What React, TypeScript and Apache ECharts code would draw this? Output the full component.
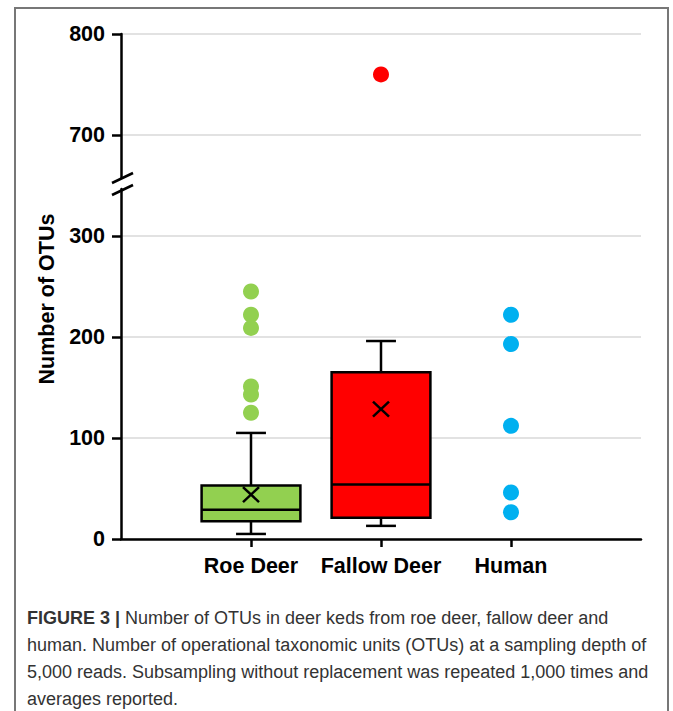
import React, { useEffect, useRef } from 'react';
import * as echarts from 'echarts';

const categories = ['Roe Deer', 'Fallow Deer', 'Human'];
const categoryPositions = [1, 2, 3];
// [position, lowWhisker, q1, median, q3, highWhisker, mean]
const roeBox = [1, 5, 17.5, 29, 53, 105, 44];
const fallowBox = [2, 13, 21, 54, 165, 196, 128.5];
const roeOutliers = [245, 222, 209, 151, 143, 125];
const fallowOutliers = [760];
const humanValues = [222, 193, 112, 46, 26.5];
const lowerTicks = [0, 100, 200, 300];
const upperTicks = [700, 800];
const boxColors = ['#92d050', '#ff0000'];
const humanColor = '#00b0f0';

const captionBold = 'FIGURE 3 |';
const captionLines = [
  ' Number of OTUs in deer keds from roe deer, fallow deer and',
  'human. Number of operational taxonomic units (OTUs) at a sampling depth of',
  '5,000 reads. Subsampling without replacement was repeated 1,000 times and',
  'averages reported.',
];

const FONT = '"Liberation Sans", Arial, Helvetica, sans-serif';
const axisLineStyle = { color: '#000', width: 2.5 };
const gridLineStyle = { color: '#d9d9d9', width: 1.5 };
const labelStyle = { color: '#000', fontSize: 21.5, fontWeight: 'bold' as const, fontFamily: FONT };

export default function App() {
  const ref = useRef<HTMLDivElement>(null);
  useEffect(() => {
    if (!ref.current) return;
    const chart = echarts.init(ref.current, undefined, { renderer: 'svg' });
    const stroke = { stroke: '#000', lineWidth: 2.5 };
    const option: any = {
      animation: false,
      backgroundColor: '#fff',
      grid: [
        { left: 121, right: 32, top: 34, height: 144 },
        { left: 121, right: 32, top: 189, height: 350 },
      ],
      xAxis: [
        { type: 'value', gridIndex: 0, min: 0, max: 4, show: false },
        {
          type: 'value', gridIndex: 1, min: 0, max: 4,
          splitLine: { show: false },
          axisLine: { show: true, onZero: false, lineStyle: axisLineStyle },
          axisTick: { show: true, customValues: categoryPositions, length: 8, lineStyle: axisLineStyle },
          axisLabel: {
            ...labelStyle,
            customValues: categoryPositions,
            margin: 16,
            formatter: (v: number) => categories[Math.round(v) - 1] ?? '',
          },
        },
      ],
      yAxis: [
        {
          type: 'value', gridIndex: 0, min: 657.4, max: 800,
          axisLine: { show: true, lineStyle: axisLineStyle },
          axisTick: { show: true, customValues: upperTicks, length: 9, lineStyle: axisLineStyle },
          axisLabel: { ...labelStyle, customValues: upperTicks, margin: 16 },
          splitLine: { show: true, lineStyle: gridLineStyle },
        },
        {
          type: 'value', gridIndex: 1, min: 0, max: 346.5,
          axisLine: { show: true, lineStyle: axisLineStyle },
          axisTick: { show: true, customValues: lowerTicks, length: 9, lineStyle: axisLineStyle },
          axisLabel: { ...labelStyle, customValues: lowerTicks, margin: 16 },
          splitLine: { show: true, lineStyle: gridLineStyle },
        },
      ],
      series: [
        {
          type: 'custom',
          xAxisIndex: 1, yAxisIndex: 1,
          data: [roeBox, fallowBox],
          encode: { x: 0, y: [1, 2, 3, 4, 5, 6] },
          z: 3,
          renderItem: (params: any, api: any) => {
            const x = api.value(0);
            const pLo = api.coord([x, api.value(1)]);
            const pQ1 = api.coord([x, api.value(2)]);
            const pMed = api.coord([x, api.value(3)]);
            const pQ3 = api.coord([x, api.value(4)]);
            const pHi = api.coord([x, api.value(5)]);
            const pMean = api.coord([x, api.value(6)]);
            const cx = pLo[0];
            const halfW = api.size([0.76, 0])[0] / 2;
            const capHalf = api.size([0.23, 0])[0] / 2;
            const m = 8;
            return {
              type: 'group',
              children: [
                { type: 'line', shape: { x1: cx, y1: pHi[1], x2: cx, y2: pQ3[1] }, style: stroke },
                { type: 'line', shape: { x1: cx, y1: pQ1[1], x2: cx, y2: pLo[1] }, style: stroke },
                { type: 'line', shape: { x1: cx - capHalf, y1: pHi[1], x2: cx + capHalf, y2: pHi[1] }, style: stroke },
                { type: 'line', shape: { x1: cx - capHalf, y1: pLo[1], x2: cx + capHalf, y2: pLo[1] }, style: stroke },
                {
                  type: 'rect',
                  shape: { x: cx - halfW, y: pQ3[1], width: halfW * 2, height: pQ1[1] - pQ3[1] },
                  style: { fill: boxColors[params.dataIndex], stroke: '#000', lineWidth: 2.5 },
                },
                { type: 'line', shape: { x1: cx - halfW, y1: pMed[1], x2: cx + halfW, y2: pMed[1] }, style: stroke },
                { type: 'line', shape: { x1: cx - m, y1: pMean[1] - m + 0.5, x2: cx + m, y2: pMean[1] + m - 0.5 }, style: stroke },
                { type: 'line', shape: { x1: cx - m, y1: pMean[1] + m - 0.5, x2: cx + m, y2: pMean[1] - m + 0.5 }, style: stroke },
              ],
            };
          },
        },
        {
          type: 'scatter', xAxisIndex: 1, yAxisIndex: 1, symbolSize: 16, z: 4,
          itemStyle: { color: boxColors[0], opacity: 1 },
          data: roeOutliers.map((v) => [categoryPositions[0], v]),
        },
        {
          type: 'scatter', xAxisIndex: 0, yAxisIndex: 0, symbolSize: 16, z: 4,
          itemStyle: { color: boxColors[1], opacity: 1 },
          data: fallowOutliers.map((v) => [categoryPositions[1], v]),
        },
        {
          type: 'scatter', xAxisIndex: 1, yAxisIndex: 1, symbolSize: 16, z: 4,
          itemStyle: { color: humanColor, opacity: 1 },
          data: humanValues.map((v) => [categoryPositions[2], v]),
        },
      ],
      graphic: [
        {
          type: 'rect', silent: true,
          shape: { x: 15, y: 8, width: 653, height: 760 },
          style: { fill: 'none', stroke: '#777', lineWidth: 2 },
        },
        { type: 'line', shape: { x1: 112, y1: 183, x2: 133, y2: 173 }, style: { stroke: '#000', lineWidth: 2.5 } },
        { type: 'line', shape: { x1: 112, y1: 195, x2: 133, y2: 185 }, style: { stroke: '#000', lineWidth: 2.5 } },
        {
          type: 'text', x: 47, y: 299, rotation: Math.PI / 2,
          style: {
            text: 'Number of OTUs', fill: '#000', font: `bold 21.5px ${FONT}`,
            align: 'center', verticalAlign: 'middle',
          },
        },
        {
          type: 'text', x: 27, y: 604,
          style: {
            text: `{b|${captionBold}}${captionLines.join('\n')}`,
            fill: '#333', font: `18px ${FONT}`, lineHeight: 27,
            rich: {
              b: { font: `bold 18px ${FONT}`, fill: '#333', lineHeight: 27 },
            },
          },
        },
      ],
    };
    chart.setOption(option);
    return () => chart.dispose();
  }, []);
  return (
    <div
      ref={ref}
      style={{ position: 'absolute', left: 0, top: 0, width: 673, height: 711 }}
    />
  );
}
